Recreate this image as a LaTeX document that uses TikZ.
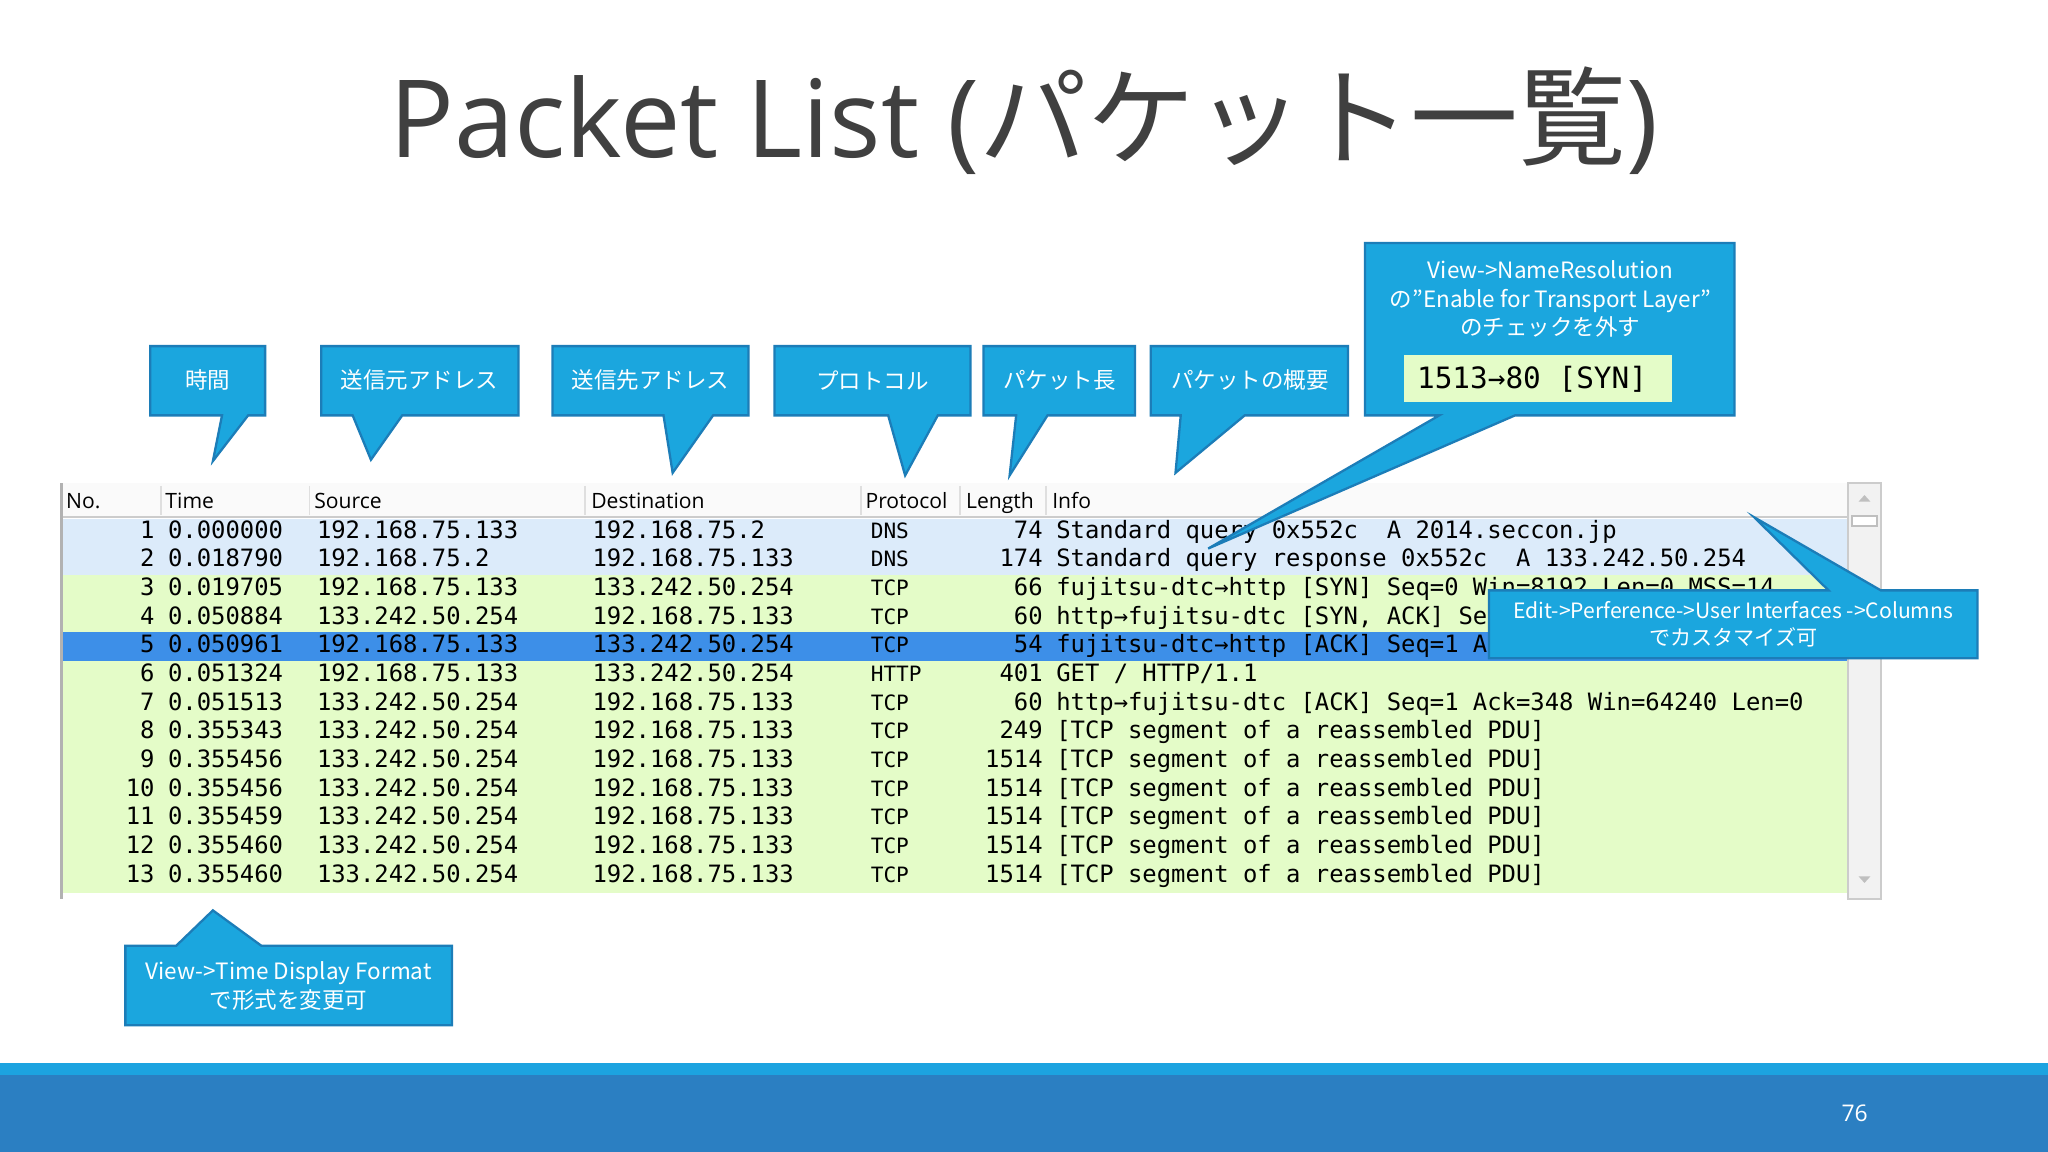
\documentclass[tikz,border=0pt]{standalone}
\usepackage{fontspec}
\setmainfont{Open Sans}
\newfontfamily\jp{Noto Sans CJK JP}
\newfontfamily\mono{DejaVu Sans Mono}
\newfontfamily\hdr{Open Sans}
\definecolor{cfill}{HTML}{1BA6DE}
\definecolor{cline}{HTML}{1C7DB8}
\definecolor{rowblue}{HTML}{DCEBFA}
\definecolor{rowgreen}{HTML}{E4FCC8}
\definecolor{rowsel}{HTML}{3D8FE8}
\definecolor{titlegray}{HTML}{404040}
\definecolor{barlight}{HTML}{1CA3E0}
\definecolor{bardark}{HTML}{2B7FC2}
\tikzset{
  callout/.style={fill=cfill,draw=cline,line width=0.5pt},
  ctext/.style={text=white,font=\jp\fontsize{4.9}{6.2}\selectfont,align=center,inner sep=0pt},
  cell/.style={font=\mono\fontsize{5.2}{6}\selectfont,text=black,inner sep=0pt,anchor=base west},
  cellr/.style={cell,anchor=base east},
  hcell/.style={font=\hdr\fontsize{4.6}{5.5}\selectfont,inner sep=0pt,anchor=base west},
}
\begin{document}
\begin{tikzpicture}[x=0.1mm,y=-0.1mm]
\useasboundingbox (0,0) rectangle (1568,882);
\fill[white] (0,0) rectangle (1568,882);
% title
\node (title) at (784,92) {\color{titlegray}\fontsize{23.5}{27}\selectfont Packet List ({\jp パケット一覧})};
% bottom bar
\fill[barlight] (0,814) rectangle (1568,823);
\fill[bardark] (0,823) rectangle (1568,882);
\node[text=white,font=\fontsize{5}{6}\selectfont] (pg) at (1420,852) {76};
% table
\fill[gray!4] (47,370) rectangle (1415,396);
\draw[gray!40] (47,396) -- (1415,396);
\foreach \x in {123,237,448,659,735,801}{\draw[gray!25] (\x,372) -- (\x,394);}
\draw[gray!60,line width=0.8pt] (47,370) -- (47,688);
\fill[rowblue] (48,397) rectangle (1415,440);
\fill[rowgreen] (48,440) rectangle (1415,684);
\fill[rowsel] (48,484) rectangle (1415,506);
\fill[gray!10] (1415,370) rectangle (1440,688);
\draw[gray!40] (1415,370) rectangle (1440,688);
\fill[gray!50] (1423,384) -- (1432,384) -- (1427.5,379) -- cycle;
\fill[gray!50] (1423,671) -- (1432,671) -- (1427.5,676) -- cycle;
\draw[gray!50,fill=white] (1418,395) rectangle (1437,403);
\node[hcell] (hno) at (50,389) {No.};
\node[hcell] (htime) at (126,389) {Time};
\node[hcell] (hsrc) at (240,389) {Source};
\node[hcell] (hdst) at (452,389) {Destination};
\node[hcell] (hpro) at (662,389) {Protocol};
\node[hcell] (hlen) at (739,389) {Length};
\node[hcell] (hinf) at (805,389) {Info};
\foreach \n/\t/\s/\d/\p/\l/\i [count=\k] in {
1/0.000000/192.168.75.133/192.168.75.2/DNS/74/{Standard query 0x552c~~A 2014.seccon.jp},
2/0.018790/192.168.75.2/192.168.75.133/DNS/174/{Standard query response 0x552c~~A 133.242.50.254},
3/0.019705/192.168.75.133/133.242.50.254/TCP/66/{fujitsu-dtc→http [SYN] Seq=0 Win=8192 Len=0 MSS=14},
4/0.050884/133.242.50.254/192.168.75.133/TCP/60/{http→fujitsu-dtc [SYN, ACK] Se},
5/0.050961/192.168.75.133/133.242.50.254/TCP/54/{fujitsu-dtc→http [ACK] Seq=1 A},
6/0.051324/192.168.75.133/133.242.50.254/HTTP/401/{GET / HTTP/1.1},
7/0.051513/133.242.50.254/192.168.75.133/TCP/60/{http→fujitsu-dtc [ACK] Seq=1 Ack=348 Win=64240 Len=0},
8/0.355343/133.242.50.254/192.168.75.133/TCP/249/{[TCP segment of a reassembled PDU]},
9/0.355456/133.242.50.254/192.168.75.133/TCP/1514/{[TCP segment of a reassembled PDU]},
10/0.355456/133.242.50.254/192.168.75.133/TCP/1514/{[TCP segment of a reassembled PDU]},
11/0.355459/133.242.50.254/192.168.75.133/TCP/1514/{[TCP segment of a reassembled PDU]},
12/0.355460/133.242.50.254/192.168.75.133/TCP/1514/{[TCP segment of a reassembled PDU]},
13/0.355460/133.242.50.254/192.168.75.133/TCP/1514/{[TCP segment of a reassembled PDU]}}{
  \pgfmathsetmacro{\yy}{412+(\k-1)*21.95}
  \node[cellr] (n\k) at (119,\yy) {\n};
  \node[cell] (t\k) at (128,\yy) {\t};
  \node[cell] (s\k) at (242,\yy) {\s};
  \node[cell] (d\k) at (453,\yy) {\d};
  \node[cell,font=\mono\fontsize{4.6}{6}\selectfont] (p\k) at (666,\yy) {\p};
  \node[cellr] (l\k) at (799,\yy) {\l};
  \node[cell] (i\k) at (808,\yy) {\i};
}
% callouts
\newcommand{\mycallout}[7]{%
  \draw[callout] (#2,265) -- (#3,265) -- (#3,318) -- (#5,318) -- (#6,#7) -- (#4,318) -- (#2,318) -- cycle;}
\mycallout{c1}{115}{203}{170}{190}{163}{353}
\node[ctext] (c1) at (159,291) {時間};
\mycallout{c2}{246}{397}{270}{308}{284}{352}
\node[ctext] (c2) at (321,291) {送信元アドレス};
\mycallout{c3}{423}{573}{508}{546}{515}{362}
\node[ctext] (c3) at (498,291) {送信先アドレス};
\mycallout{c4}{593}{743}{680}{718}{693}{364}
\node[ctext] (c4) at (668,291) {プロトコル};
\mycallout{c5}{753}{869}{778}{802}{773}{364}
\node[ctext] (c5) at (811,291) {パケット長};
\mycallout{c6}{881}{1032}{904}{953}{900}{362}
\node[ctext] (c6) at (957,291) {パケットの概要};
% big callout
\draw[callout] (1045,186) -- (1328,186) -- (1328,318) -- (1160,318) -- (925,420) -- (1102,318) -- (1045,318) -- cycle;
\node[ctext] (c7) at (1187,229) {View->NameResolution\\の”Enable for Transport Layer”\\のチェックを外す};
\fill[rowgreen] (1075,272) rectangle (1280,308);
\node[font=\mono\fontsize{6.4}{7}\selectfont,inner sep=0pt] (c7b) at (1173,290) {1513→80 [SYN]};
% edit callout
\draw[callout] (1140,452) -- (1400,452) -- (1343,396) -- (1440,452) -- (1514,452) -- (1514,504) -- (1140,504) -- cycle;
\node[ctext,font=\jp\fontsize{4.6}{6}\selectfont] (c8) at (1327,478) {Edit->Perference->User Interfaces ->Columns\\でカスタマイズ可};
% time callout
\draw[callout] (96,724) -- (135,724) -- (163,697) -- (200,724) -- (346,724) -- (346,785) -- (96,785) -- cycle;
\node[ctext] (c9) at (221,755) {View->Time Display Format\\で形式を変更可};
\end{tikzpicture}
\end{document}
